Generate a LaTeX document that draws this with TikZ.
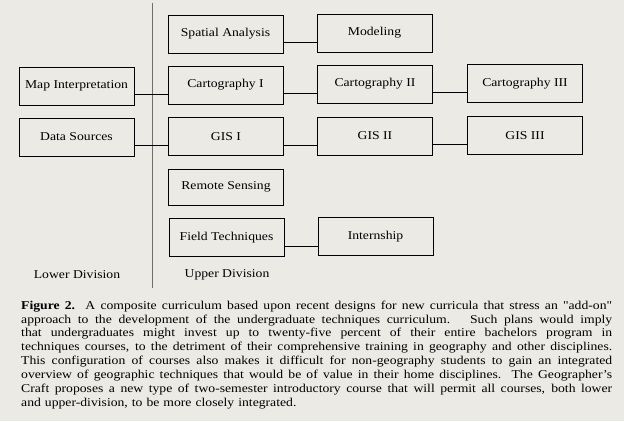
\documentclass[tikz,border=0pt]{standalone}
\usepackage{fontspec}
\setmainfont[Ligatures=TeXOff, FakeStretch=1.14]{Liberation Serif}
\definecolor{bgc}{HTML}{ECEAE5}
\definecolor{divc}{HTML}{6E6E6E}
\tikzset{
  course/.style={draw=black, line width=1pt, minimum width=115pt, minimum height=38pt, inner sep=0pt, font=\fontsize{12}{14}\selectfont},
  link/.style={draw=black, line width=1pt},
  divlabel/.style={font=\fontsize{12}{14}\selectfont, inner sep=0pt}
}
\newcommand{\capline}[1]{\noindent\hbox to 591pt{\spaceskip=0.25em plus 1fil\relax #1}\par}
\begin{document}
\begin{tikzpicture}[x=1pt, y=-1pt]
\fill[bgc] (0,0) rectangle (624,421);
\useasboundingbox (0,0) rectangle (624,421);
% divider
\coordinate (dtop) at (152,3);
\coordinate (dbot) at (152,288);
\draw[divc, line width=0.7pt] (dtop) -- (dbot);
% courses
\node[course] (sa)  at (225.5,34)  {Spatial Analysis};
\node[course] (mod) at (374.5,33)  {Modeling};
\node[course] (map) at (76.5,86)   {Map Interpretation};
\node[course] (c1)  at (225.5,85)  {Cartography I};
\node[course] (c2)  at (375,84)    {Cartography II};
\node[course] (c3)  at (525,83.5)  {Cartography III};
\node[course] (ds)  at (76.5,137)  {Data Sources};
\node[course] (g1)  at (226,136.5) {GIS I};
\node[course] (g2)  at (375,136)   {GIS II};
\node[course] (g3)  at (525,135.5) {GIS III};
\node[course, minimum height=36pt] (rs) at (226,187) {Remote Sensing};
\node[course] (ft)  at (226.5,237.5) {Field Techniques};
\node[course] (int) at (375.5,236.5) {Internship};
% connectors
\foreach \a/\b in {sa/mod, map/c1, c1/c2, c2/c3, ds/g1, g1/g2, g2/g3, ft/int}{
  \draw[link] ([yshift=-8.5pt]\a.east) -- ([yshift=-8.5pt]\a.east -| \b.west);
}
% division labels
\node[divlabel] (lower) at (77,275) {Lower Division};
\node[divlabel] (upper) at (227,275) {Upper Division};
% caption
\node[anchor=north west, inner sep=0pt, text width=591pt, align=left,
      font=\fontsize{12}{13.85}\selectfont] (cap) at (21,300.5) {%
\capline{\textbf{Figure 2.}\ \ A composite curriculum based upon recent designs for new curricula that stress an "add-on"}
\capline{approach to the development of the undergraduate techniques curriculum.\ \ \ Such plans would imply}
\capline{that undergraduates might invest up to twenty-five percent of their entire bachelors program in}
\capline{techniques courses, to the detriment of their comprehensive training in geography and other disciplines.}
\capline{This configuration of courses also makes it difficult for non-geography students to gain an integrated}
\capline{overview of geographic techniques that would be of value in their home disciplines.\ \ The Geographer’s}
\capline{Craft proposes a new type of two-semester introductory course that will permit all courses, both lower}
\noindent and upper-division, to be more closely integrated.};
\end{tikzpicture}
\end{document}
